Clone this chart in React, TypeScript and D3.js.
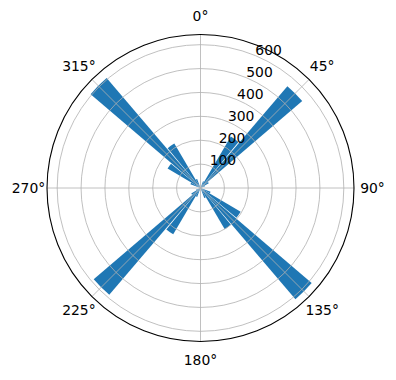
import React from "react";
import * as d3 from "d3";

// 36 bins of 10°, centres at 5°, 15°, ... 355° (clockwise from north)
const binCenters: number[] = d3.range(36).map((i) => 5 + 10 * i);
const counts: number[] = [
  0, 0, 30, 250, 560, 40, 20, 0, 0, 0,
  0, 45, 195, 612, 200, 45, 0, 0, 0, 0,
  40, 225, 588, 45, 20, 0, 0, 0, 0, 45,
  160, 605, 216, 40, 0, 0,
];
const radialTicks: number[] = [100, 200, 300, 400, 500, 600];
const thetaTicks: number[] = [0, 45, 90, 135, 180, 225, 270, 315];

const W = 396;
const H = 380;
const CX = 200.5;
const CY = 188;
const R = 153.5;
const BAR_W = 9; // degrees
const FONT = "'DejaVu Sans', sans-serif";

export default function App() {
  const rmax = 1.05 * (d3.max(counts) as number);
  const r = d3.scaleLinear().domain([0, rmax]).range([0, R]);
  const rad = (deg: number) => (deg * Math.PI) / 180;
  const arc = d3.arc<{ c: number; v: number }>()
    .innerRadius(0)
    .outerRadius((d) => r(d.v))
    .startAngle((d) => rad(d.c - BAR_W / 2))
    .endAngle((d) => rad(d.c + BAR_W / 2));
  const bars = binCenters.map((c, i) => ({ c, v: counts[i] })).filter((d) => d.v > 0);
  const labelR = R + 18.5;
  const rLabelAng = rad(22.5);
  return (
    <svg width={W} height={H} style={{ position: "absolute", left: 0, top: 0, background: "#fff" }}>
      <g transform={`translate(${CX},${CY})`}>
        {bars.map((d, i) => (
          <path key={i} d={arc(d) as string} fill="#1f77b4" />
        ))}
        {radialTicks.map((t) => (
          <circle key={t} r={r(t)} fill="none" stroke="#b0b0b0" strokeWidth={0.8} />
        ))}
        {thetaTicks.map((t) => (
          <line key={t} x1={0} y1={0} x2={R * Math.sin(rad(t))} y2={-R * Math.cos(rad(t))}
            stroke="#b0b0b0" strokeWidth={0.8} />
        ))}
        <circle r={R} fill="none" stroke="#000" strokeWidth={1.1} />
        {thetaTicks.map((t) => (
          <text key={t} x={labelR * Math.sin(rad(t))} y={-labelR * Math.cos(rad(t))}
            textAnchor="middle" dominantBaseline="central" fontFamily={FONT} fontSize={13.9} fill="#000">
            {`${t}°`}
          </text>
        ))}
        {radialTicks.map((t) => (
          <text key={t} x={r(t) * Math.sin(rLabelAng)} y={-r(t) * Math.cos(rLabelAng)}
            textAnchor="start" fontFamily={FONT} fontSize={13.9} fill="#000" dy={-1}>
            {t}
          </text>
        ))}
      </g>
    </svg>
  );
}
